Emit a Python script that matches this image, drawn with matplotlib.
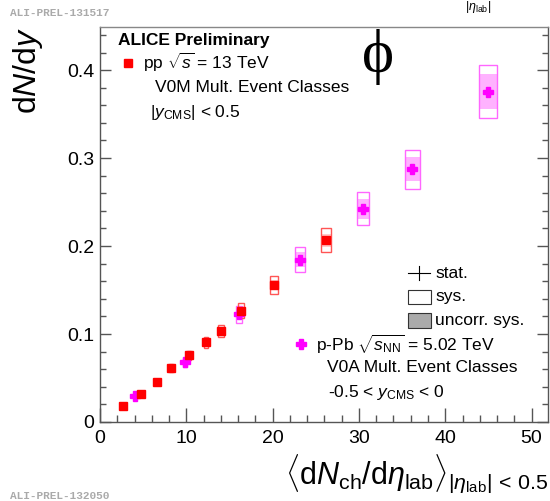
import matplotlib
matplotlib.use("Agg")
import matplotlib.pyplot as plt
from matplotlib.patches import Rectangle
from matplotlib.ticker import MultipleLocator

plt.rcParams['font.family'] = ['Liberation Sans', 'DejaVu Sans']
plt.rcParams['mathtext.fontset'] = 'custom'
plt.rcParams['mathtext.rm'] = 'Liberation Sans'
plt.rcParams['mathtext.it'] = 'Liberation Sans:italic'
plt.rcParams['mathtext.bf'] = 'Liberation Sans:bold'

# pp 13 TeV (V0M)
pp_x = [2.70, 4.75, 6.64, 8.23, 10.27, 12.28, 14.0, 16.37, 20.16, 26.19]
pp_y = [0.0182, 0.0318, 0.0451, 0.0614, 0.0758, 0.0906, 0.1034, 0.1265, 0.1557, 0.2065]
pp_stat = [0.0004, 0.0005, 0.0006, 0.0008, 0.0009, 0.0011, 0.0012, 0.0015, 0.0019, 0.0030]
pp_sys = [0.0012, 0.0021, 0.0030, 0.0041, 0.0051, 0.0061, 0.0069, 0.0085, 0.0104, 0.0138]
pp_unc = [0.0006, 0.0011, 0.0016, 0.0022, 0.0027, 0.0032, 0.0036, 0.0045, 0.0055, 0.0073]
pp_xsys = [0.06, 0.10, 0.15, 0.18, 0.23, 0.27, 0.31, 0.36, 0.46, 0.54]

# p-Pb 5.02 TeV (V0A)
ppb_x = [4.06, 9.81, 16.07, 23.17, 30.47, 36.19, 44.92]
ppb_y = [0.0295, 0.0680, 0.1224, 0.1845, 0.2424, 0.2871, 0.3754]
ppb_stat = [0.0005, 0.0008, 0.0012, 0.0016, 0.0020, 0.0022, 0.0028]
ppb_sys = [0.0023, 0.0053, 0.0095, 0.0143, 0.0187, 0.0222, 0.0300]
ppb_unc = [0.0014, 0.0032, 0.0058, 0.0087, 0.0114, 0.0136, 0.0200]
ppb_xsys = [0.10, 0.23, 0.37, 0.53, 0.70, 0.83, 1.03]

fig = plt.figure(figsize=(5.5, 5.01), dpi=100)
ax = fig.add_axes([100/550, 79/501, 448/550, 395/501])
ax.set_xlim(0, 51.9)
ax.set_ylim(0, 0.449)

edge = '#555555'
for s in ax.spines.values():
    s.set_color(edge)
    s.set_linewidth(1.0)
ax.spines['top'].set_color('#888888')

ax.xaxis.set_major_locator(MultipleLocator(10))
ax.xaxis.set_minor_locator(MultipleLocator(2))
ax.yaxis.set_major_locator(MultipleLocator(0.1))
ax.yaxis.set_minor_locator(MultipleLocator(0.02))
ax.tick_params(which='both', direction='in', colors=edge, labelcolor='black',
               right=True, top=False, labelsize=14)
ax.tick_params(axis='x', which='major', length=10, width=1, pad=6)
ax.tick_params(axis='x', which='minor', length=5, width=1)
ax.tick_params(axis='y', which='major', length=8, width=1, pad=4)
ax.tick_params(axis='y', which='minor', length=4, width=1)
ax.set_yticks([0, 0.1, 0.2, 0.3, 0.4])
ax.set_yticklabels(['0', '0.1', '0.2', '0.3', '0.4'])

# systematic boxes
for x, y, s, u, dx in zip(ppb_x, ppb_y, ppb_sys, ppb_unc, ppb_xsys):
    ax.add_patch(Rectangle((x - dx, y - u), 2 * dx, 2 * u, facecolor='#ff00ff', alpha=0.3,
                           edgecolor='none', zorder=2))
    ax.add_patch(Rectangle((x - dx, y - s), 2 * dx, 2 * s, facecolor='none',
                           edgecolor='#ff66ff', lw=1.0, zorder=3))
for x, y, s, u, dx in zip(pp_x, pp_y, pp_sys, pp_unc, pp_xsys):
    ax.add_patch(Rectangle((x - dx, y - u), 2 * dx, 2 * u, facecolor='#ff0000', alpha=0.2,
                           edgecolor='none', zorder=2))
    ax.add_patch(Rectangle((x - dx, y - s), 2 * dx, 2 * s, facecolor='none',
                           edgecolor='#ff5555', lw=1.0, zorder=3))

ax.errorbar(ppb_x, ppb_y, yerr=ppb_stat, fmt='P', color='#ff00ff', ms=7,
            mec='#ff00ff', elinewidth=1, capsize=0, zorder=5)
ax.errorbar(pp_x, pp_y, yerr=pp_stat, fmt='s', color='#ff0000', ms=5.5,
            elinewidth=1, capsize=0, zorder=6)

# labels
fig.text(28/550, 1 - 27/501, 'd$N$/d$y$', rotation=90, fontsize=23,
         ha='center', va='top')
fig.text(548/550, 1 - 484/501,
         r'$\langle$d$N_{\rm ch}$/d$\eta_{\rm lab}\rangle_{|\eta_{\rm lab}|\,<\,0.5}$',
         fontsize=22, ha='right', va='baseline')

# annotations in pixel coordinates
def ftxt(px, py, s, **kw):
    fig.text(px / 550, 1 - py / 501, s, **kw)

ftxt(118, 40, 'ALICE Preliminary', fontsize=12.5, fontweight='bold', va='center')
ax.plot([127.7 / 550], [1 - 62.5 / 501], 's', color='#ff0000', ms=5.5,
        transform=fig.transFigure, clip_on=False)
ftxt(143, 62, r'pp $\sqrt{s}$ = 13 TeV', fontsize=12.5, va='center')
ftxt(155, 88, 'V0M Mult. Event Classes', fontsize=12.5, va='center')
ftxt(150, 112, r'$|y_{\rm CMS}|$ < 0.5', fontsize=12.5, va='center')

ftxt(378, 57, '\u03d5', fontsize=44, va='center', ha='center',
     family=['Liberation Serif', 'DejaVu Serif'])

# stat/sys legend
ax.plot([408 / 550, 430 / 550], [1 - 273 / 501] * 2, color='black', lw=0.8,
        transform=fig.transFigure, clip_on=False)
ax.plot([419 / 550] * 2, [1 - 266 / 501, 1 - 280 / 501], color='black', lw=0.8,
        transform=fig.transFigure, clip_on=False)
ftxt(435, 273, 'stat.', fontsize=12.5, va='center')
fig.patches.append(Rectangle((408 / 550, 1 - 304 / 501), 23 / 550, 14 / 501,
                             facecolor='white', edgecolor='#333333', lw=0.8,
                             transform=fig.transFigure))
ftxt(435, 297, 'sys.', fontsize=12.5, va='center')
fig.patches.append(Rectangle((408 / 550, 1 - 328 / 501), 23 / 550, 15 / 501,
                             facecolor='#aaaaaa', edgecolor='#333333', lw=0.8,
                             transform=fig.transFigure))
ftxt(435, 320, 'uncorr. sys.', fontsize=12.5, va='center')

ax.plot([300.5 / 550], [1 - 344 / 501], 'P', color='#ff00ff', ms=7,
        transform=fig.transFigure, clip_on=False)
ftxt(316, 344, r'p-Pb $\sqrt{s_{\rm NN}}$ = 5.02 TeV', fontsize=12.5, va='center')
ftxt(327, 368, 'V0A Mult. Event Classes', fontsize=12.5, va='center')
ftxt(328, 392, r'-0.5 < $y_{\rm CMS}$ < 0', fontsize=12.5, va='center')

# watermarks
ftxt(10, 13, 'ALI-PREL-131517', fontsize=8, color='#aaaaaa', va='center',
     family=['Liberation Mono'], fontweight='bold')
ftxt(10, 496, 'ALI-PREL-132050', fontsize=8, color='#aaaaaa', va='center',
     family=['Liberation Mono'], fontweight='bold')
ftxt(478, 7, r'$|\eta_{\rm lab}|$', fontsize=9, va='center', ha='center')

fig.savefig('out.png', dpi=100)
